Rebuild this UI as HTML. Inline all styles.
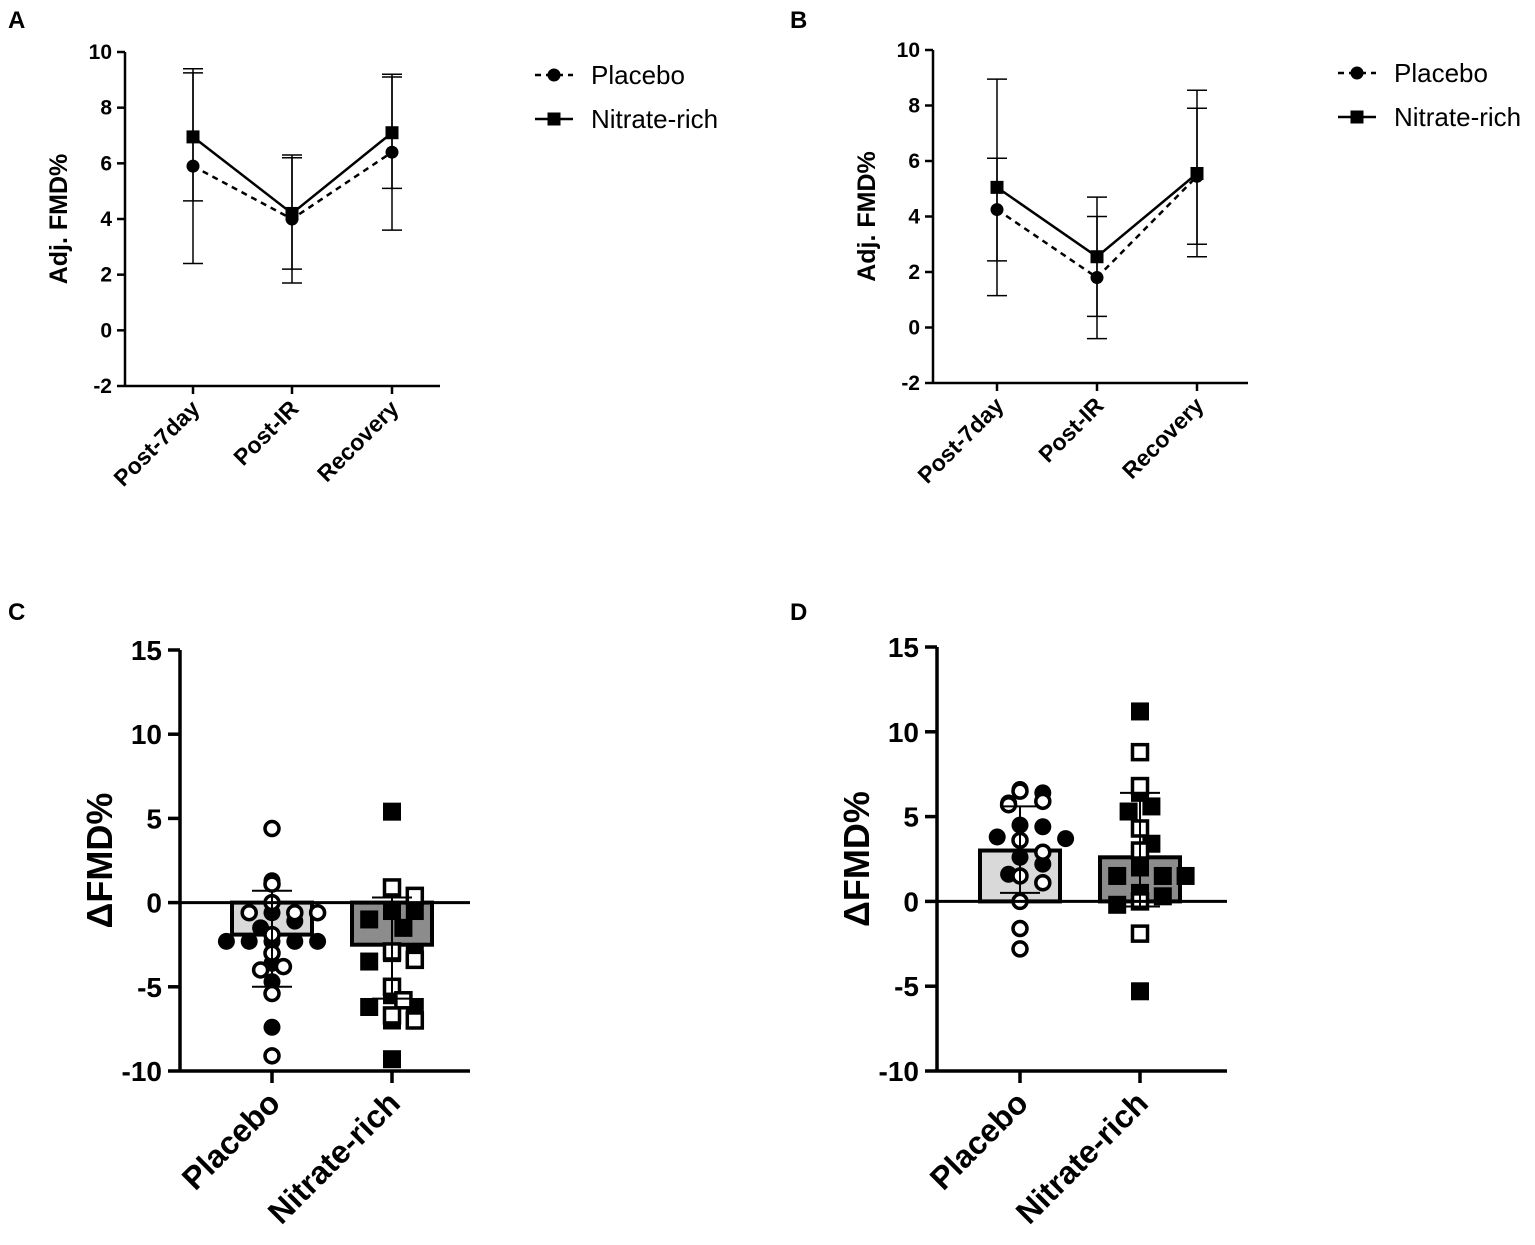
<!DOCTYPE html>
<html><head><meta charset="utf-8"><style>
html,body{margin:0;padding:0;background:#fff;}
svg{display:block;font-family:"Liberation Sans",Arial,sans-serif;}
</style></head><body>
<svg id="s" width="1535" height="1245" viewBox="0 0 1535 1245" xmlns="http://www.w3.org/2000/svg"></svg>
<script>
// ---- Data ----
const lineCats = ["Post-7day","Post-IR","Recovery"];
const aPlacebo = [5.9, 4.0, 6.4];
const aPlaceboSD = [3.5, 2.3, 2.8];
const aNitrate = [6.95, 4.2, 7.1];
const aNitrateSD = [2.3, 2.0, 2.0];
const bPlacebo = [4.25, 1.8, 5.45];
const bPlaceboSD = [1.85, 2.2, 2.45];
const bNitrate = [5.05, 2.55, 5.55];
const bNitrateSD = [3.9, 2.15, 3.0];
const lineTicks = [-2,0,2,4,6,8,10];
const barCats = ["Placebo","Nitrate-rich"];
const barTicks = [-10,-5,0,5,10,15];
const cMeans = [-1.9, -2.5];
const cSDUp = [2.6, 2.8];
const cSDDown = [3.1, 3.2];
const dMeans = [3.0, 2.6];
const dSDUp = [2.6, 3.8];
const dSDDown = [2.5, 2.9];
const cPlaceboFilled = [1.3,-0.6,-1.1,-1.5,-2.3,-2.3,-2.3,-2.3,-2.3,-3.6,-4.7,-7.4];
const cPlaceboOpen = [4.4,1.1,0,-0.6,-0.6,-0.6,-1.9,-3.0,-3.8,-4.0,-5.4,-9.1];
const cNitrateFilled = [5.4,-0.5,-0.5,-1.0,-1.5,-3.0,-3.0,-3.5,-5.5,-6.2,-6.2,-7.0,-9.3];
const cNitrateOpen = [0.9,0.4,-2.9,-3.4,-5.0,-5.8,-6.7,-7.0];
const dPlaceboFilled = [6.6,6.4,5.8,4.5,4.4,3.8,3.7,2.6,2.2,1.6,-1.6];
const dPlaceboOpen = [6.5,5.9,5.7,3.6,2.9,1.5,1.1,0.0,-1.6,-2.8];
const dNitrateFilled = [11.2,6.4,5.6,5.3,4.3,3.4,2.0,1.5,1.5,1.5,0.5,0.3,-0.2,-5.3];
const dNitrateOpen = [8.8,6.8,4.3,3.0,0,-1.9];

const NS="http://www.w3.org/2000/svg";
const svg=document.getElementById('s');
function mk(tag,attrs,parent){const e=document.createElementNS(NS,tag);for(const k in attrs)e.setAttribute(k,attrs[k]);(parent||svg).appendChild(e);return e;}
function txt(s,attrs,parent){const e=mk('text',attrs,parent);e.textContent=s;return e;}

[["A",8,28],["B",790,28],["C",8,620],["D",790,620]].forEach(p=>{
  const t=txt(p[0],{x:p[1],y:p[2],'font-size':24,'font-weight':'bold'});
  
  
});

function linePanel(id,ax,yTop,yBot,cx,pl,plSD,nr,nrSD,legX,legY){
  const g=mk('g',{});
  
  
  const y=v=>yBot+(v+2)*(yTop-yBot)/12;
  const xEnd=ax+315;
  mk('line',{x1:ax,y1:yTop,x2:ax,y2:yBot,stroke:'#000','stroke-width':2.5},g);
  mk('line',{x1:ax,y1:yBot,x2:xEnd,y2:yBot,stroke:'#000','stroke-width':2.5},g);
  lineTicks.forEach(t=>{
    mk('line',{x1:ax-8,y1:y(t),x2:ax,y2:y(t),stroke:'#000','stroke-width':2.5},g);
    const l=txt(String(t),{x:ax-13,y:y(t)+7,'font-size':21,'font-weight':'bold','text-anchor':'end'},g);
    
    
  });
  lineCats.forEach((c,i)=>{
    mk('line',{x1:cx[i],y1:yBot,x2:cx[i],y2:yBot+8,stroke:'#000','stroke-width':2.5},g);
    const l=txt(c,{x:cx[i]+8,y:yBot+24,'font-size':23,'font-weight':'bold','text-anchor':'end',transform:`rotate(-45 ${cx[i]+8} ${yBot+24})`},g);
    
    
  });
  const yt=txt('Adj. FMD%',{x:0,y:0,'font-size':25,'font-weight':'bold','text-anchor':'middle',transform:`translate(${ax-58},${(yTop+yBot)/2}) rotate(-90)`},g);
  
  
  function series(vals,sd,dash,shape,name){
    const sg=mk('g',{},g);
    
    
    vals.forEach((v,i)=>{
      mk('line',{x1:cx[i],y1:y(v+sd[i]),x2:cx[i],y2:y(v-sd[i]),stroke:'#000','stroke-width':1.5},sg);
      [v+sd[i],v-sd[i]].forEach(e=>mk('line',{x1:cx[i]-10,y1:y(e),x2:cx[i]+10,y2:y(e),stroke:'#000','stroke-width':1.5},sg));
    });
    mk('polyline',{points:vals.map((v,i)=>cx[i]+','+y(v)).join(' '),fill:'none',stroke:'#000','stroke-width':2.5,'stroke-dasharray':dash},sg);
    vals.forEach((v,i)=>{
      const m=shape==='c'?mk('circle',{cx:cx[i],cy:y(v),r:6.5,fill:'#000'},sg):mk('rect',{x:cx[i]-6.5,y:y(v)-6.5,width:13,height:13,fill:'#000'},sg);
      
      
    });
  }
  series(pl,plSD,'6 5','c','placebo');
  series(nr,nrSD,'none','s','nitrate');
  const lg=mk('g',{},g);
  
  
  mk('line',{x1:legX,y1:legY,x2:legX+38,y2:legY,stroke:'#000','stroke-width':2.5,'stroke-dasharray':'6 5'},lg);
  mk('circle',{cx:legX+19,cy:legY,r:6.5,fill:'#000'},lg);
  txt('Placebo',{x:legX+56,y:legY+9,'font-size':26},lg);
  mk('line',{x1:legX,y1:legY+44,x2:legX+38,y2:legY+44,stroke:'#000','stroke-width':2.5},lg);
  mk('rect',{x:legX+12.5,y:legY+37.5,width:13,height:13,fill:'#000'},lg);
  txt('Nitrate-rich',{x:legX+56,y:legY+53,'font-size':26},lg);
}
linePanel('a',125,52,386,[193,292,392],aPlacebo,aPlaceboSD,aNitrate,aNitrateSD,535,75);
linePanel('b',933,50,383,[997,1097,1197],bPlacebo,bPlaceboSD,bNitrate,bNitrateSD,1338,73);

function swarm(vals,cxv,y,r){
  const placed=[];const out=[];
  vals.forEach(v=>{
    const py=y(v);let k=0,px=cxv;
    while(true){
      const off=(k===0)?0:Math.ceil(k/2)*(k%2?1:-1)*r*1.2;
      px=cxv+off;
      if(!placed.some(p=>Math.hypot(p[0]-px,p[1]-py)<r*1.8))break;
      k++; if(k>30)break;
    }
    placed.push([px,py]);out.push([px,py]);
  });
  return out;
}

function barPanel(id,ax,yTop,yBot,cx,means,up,down,pts,fills){
  const g=mk('g',{});
  
  
  const y=v=>yBot+(v+10)*(yTop-yBot)/25;
  const xEnd=ax+290;
  means.forEach((m,i)=>{
    const b=mk('rect',{x:cx[i]-40,y:Math.min(y(0),y(m)),width:80,height:Math.abs(y(m)-y(0)),fill:fills[i],stroke:'#000','stroke-width':4},g);
    
    
  });
  pts.forEach(set=>{
    const r=9.5;
    swarm(set.vals,cx[set.cat],y,r).forEach(p=>{
      let m;
      if(set.shape==='c') m=mk('circle',{cx:p[0],cy:p[1],r:set.fill?8.5:7,fill:set.fill?'#000':'#fff',stroke:'#000','stroke-width':set.fill?0:3.5},g);
      else m=mk('rect',{x:p[0]-(set.fill?9:7.5),y:p[1]-(set.fill?9:7.5),width:set.fill?18:15,height:set.fill?18:15,fill:set.fill?'#000':'#fff',stroke:'#000','stroke-width':set.fill?0:3.5},g);
      
      
    });
  });
  means.forEach((m,i)=>{
    mk('line',{x1:cx[i],y1:y(m+up[i]),x2:cx[i],y2:y(m-down[i]),stroke:'#000','stroke-width':2},g);
    [m+up[i],m-down[i]].forEach(e=>mk('line',{x1:cx[i]-20,y1:y(e),x2:cx[i]+20,y2:y(e),stroke:'#000','stroke-width':2},g));
  });
  mk('line',{x1:ax,y1:y(0),x2:xEnd,y2:y(0),stroke:'#000','stroke-width':3},g);
  mk('line',{x1:ax,y1:yTop,x2:ax,y2:yBot,stroke:'#000','stroke-width':3.5},g);
  mk('line',{x1:ax,y1:yBot,x2:xEnd,y2:yBot,stroke:'#000','stroke-width':3.5},g);
  barTicks.forEach(t=>{
    mk('line',{x1:ax-12,y1:y(t),x2:ax,y2:y(t),stroke:'#000','stroke-width':3.5},g);
    const l=txt(String(t),{x:ax-18,y:y(t)+10,'font-size':28,'font-weight':'bold','text-anchor':'end'},g);
    
    
  });
  barCats.forEach((c,i)=>{
    mk('line',{x1:cx[i],y1:yBot,x2:cx[i],y2:yBot+12,stroke:'#000','stroke-width':3.5},g);
    const l=txt(c,{x:cx[i]+10,y:yBot+34,'font-size':32,'font-weight':'bold','text-anchor':'end',transform:`rotate(-45 ${cx[i]+10} ${yBot+34})`},g);
    
    
  });
  const yt=txt('ΔFMD%',{x:0,y:0,'font-size':36,'font-weight':'bold','text-anchor':'middle',transform:`translate(${ax-68},${(yTop+yBot)/2}) rotate(-90)`},g);
  
  
}
barPanel('c',180,650,1071,[272,392],cMeans,cSDUp,cSDDown,[
  {vals:cPlaceboFilled,cat:0,shape:'c',fill:true},
  {vals:cPlaceboOpen,cat:0,shape:'c',fill:false},
  {vals:cNitrateFilled,cat:1,shape:'s',fill:true},
  {vals:cNitrateOpen,cat:1,shape:'s',fill:false}],['#d9d9d9','#8c8c8c']);
barPanel('d',937,647,1071,[1020,1140],dMeans,dSDUp,dSDDown,[
  {vals:dPlaceboFilled,cat:0,shape:'c',fill:true},
  {vals:dPlaceboOpen,cat:0,shape:'c',fill:false},
  {vals:dNitrateFilled,cat:1,shape:'s',fill:true},
  {vals:dNitrateOpen,cat:1,shape:'s',fill:false}],['#d9d9d9','#8c8c8c']);
</script>
</body></html>
